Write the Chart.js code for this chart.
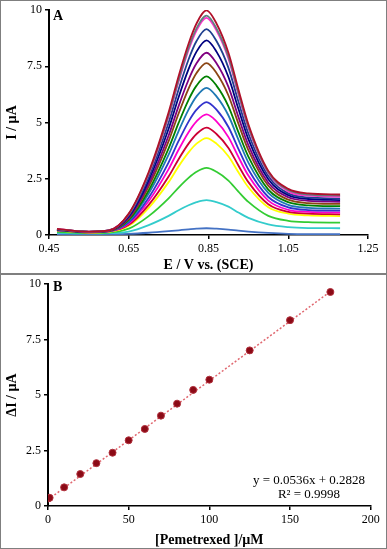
<!DOCTYPE html>
<html>
<head>
<meta charset="utf-8">
<script src="https://cdn.jsdelivr.net/npm/chart.js@4.4.1/dist/chart.umd.min.js"></script>
<style>
  body { margin: 0; background: #fff; }
  .painel { position: absolute; left: 0; width: 385px; border: 1px solid #7f7f7f; background: #fff; }
  #painelA { top: 0; height: 272px; }
  #painelB { top: 274px; height: 273px; }
  canvas { display: block; }
</style>
</head>
<body>
<div class="painel" id="painelA"><canvas id="graficoA" width="385" height="272"></canvas></div>
<div class="painel" id="painelB"><canvas id="graficoB" width="385" height="273"></canvas></div>
<script>
// Painel A: voltamogramas (E / V, I / uA)
const potenciais = [0.47, 0.55, 0.60, 0.65, 0.70, 0.75, 0.775, 0.80, 0.82, 0.845, 0.87, 0.90, 0.925, 0.95, 1.00, 1.05, 1.10, 1.18];

const curva01 = [0.04, 0.03, 0.03, 0.05, 0.10, 0.17, 0.21, 0.25, 0.28, 0.30, 0.28, 0.24, 0.19, 0.15, 0.09, 0.05, 0.04, 0.04];
const curva02 = [0.10, 0.07, 0.08, 0.15, 0.44, 0.85, 1.10, 1.32, 1.46, 1.55, 1.46, 1.26, 1.00, 0.76, 0.47, 0.35, 0.31, 0.30];
const curva03 = [0.14, 0.09, 0.11, 0.28, 0.84, 1.63, 2.11, 2.54, 2.81, 2.98, 2.81, 2.42, 1.93, 1.47, 0.85, 0.63, 0.57, 0.55];
const curva04 = [0.19, 0.11, 0.14, 0.41, 1.21, 2.35, 3.05, 3.67, 4.06, 4.31, 4.06, 3.50, 2.79, 2.12, 1.23, 0.95, 0.87, 0.84];
const curva05 = [0.21, 0.12, 0.16, 0.45, 1.34, 2.60, 3.37, 4.06, 4.49, 4.77, 4.49, 3.87, 3.09, 2.35, 1.37, 1.03, 0.95, 0.92];
const curva06 = [0.22, 0.12, 0.16, 0.51, 1.51, 2.93, 3.79, 4.57, 5.05, 5.36, 5.05, 4.35, 3.47, 2.64, 1.53, 1.12, 1.03, 1.00];
const curva07 = [0.22, 0.13, 0.17, 0.56, 1.66, 3.23, 4.18, 5.04, 5.57, 5.91, 5.57, 4.80, 3.83, 2.91, 1.69, 1.23, 1.11, 1.08];
const curva08 = [0.23, 0.13, 0.17, 0.62, 1.84, 3.57, 4.62, 5.57, 6.16, 6.54, 6.16, 5.31, 4.24, 3.22, 1.87, 1.34, 1.21, 1.17];
const curva09 = [0.23, 0.13, 0.18, 0.67, 1.98, 3.85, 4.98, 6.01, 6.64, 7.05, 6.64, 5.72, 4.57, 3.48, 2.02, 1.46, 1.32, 1.28];
const curva10 = [0.24, 0.14, 0.18, 0.73, 2.15, 4.17, 5.40, 6.51, 7.20, 7.64, 7.20, 6.20, 4.95, 3.77, 2.19, 1.57, 1.42, 1.38];
const curva11 = [0.24, 0.14, 0.19, 0.77, 2.28, 4.42, 5.73, 6.90, 7.63, 8.10, 7.63, 6.58, 5.25, 3.99, 2.32, 1.68, 1.52, 1.47];
const curva12 = [0.25, 0.14, 0.19, 0.82, 2.43, 4.72, 6.12, 7.37, 8.15, 8.65, 8.15, 7.02, 5.61, 4.26, 2.48, 1.77, 1.60, 1.55];
const curva13 = [0.25, 0.14, 0.20, 0.87, 2.57, 5.00, 6.47, 7.80, 8.62, 9.15, 8.62, 7.43, 5.93, 4.51, 2.62, 1.85, 1.67, 1.62];
const curva14 = [0.27, 0.15, 0.21, 0.92, 2.71, 5.27, 6.82, 8.22, 9.09, 9.65, 9.09, 7.84, 6.25, 4.76, 2.76, 1.94, 1.75, 1.70];
const curva15 = [0.26, 0.15, 0.20, 0.93, 2.74, 5.32, 6.89, 8.31, 9.18, 9.75, 9.18, 7.92, 6.32, 4.81, 2.79, 2.00, 1.80, 1.75];
const curva16 = [0.27, 0.15, 0.20, 0.95, 2.80, 5.45, 7.06, 8.50, 9.40, 9.98, 9.40, 8.10, 6.47, 4.92, 2.85, 2.05, 1.85, 1.80];

const curvas = [curva01, curva02, curva03, curva04, curva05, curva06, curva07, curva08,
                curva09, curva10, curva11, curva12, curva13, curva14, curva15, curva16];

const ticksXA = [0.45, 0.65, 0.85, 1.05, 1.25];
const ticksY = [0, 2.5, 5, 7.5, 10];

// Painel B: curva analitica
const concentracoes = [0.1, 1, 10, 20, 30, 40, 50, 60, 70, 80, 90, 100, 125, 150, 175];
const deltaI = [0.34, 0.37, 0.84, 1.44, 1.93, 2.40, 2.96, 3.47, 4.07, 4.61, 5.23, 5.69, 7.01, 8.37, 9.64];
const ticksXB = [0, 50, 100, 150, 200];
const inclinacao = 0.0536;
const intercepto = 0.2828;
const r2 = "0.9998";

const coresCurvas = ["#4472c4", "#33cccc", "#33cc33", "#ffff00", "#cc0033", "#ff00cc", "#3333cc", "#1f78b4",
                     "#008000", "#8b4513", "#800080", "#000080", "#1f3f8f", "#ff33cc", "#5f7f7f", "#b0102a"];

const fonteSerif = "'Liberation Serif', 'Times New Roman', serif";

function eixo(min, max, valoresTicks, titulo, formato, tamanho, horizontal) {
  return {
    type: "linear",
    min: min,
    max: max,
    afterBuildTicks: (s) => { s.ticks = valoresTicks.map((v) => ({ value: v })); },
    afterFit: (s) => { if (horizontal) s.height = tamanho; else s.width = tamanho; },
    ticks: {
      callback: formato,
      color: "#000",
      padding: horizontal ? 4 : 3,
      maxRotation: 0,
      autoSkip: false,
      font: { family: fonteSerif, size: 12, lineHeight: 1 },
    },
    grid: { drawOnChartArea: false, drawTicks: true, tickLength: 4, color: "#000", lineWidth: 1.5 },
    border: { display: true, color: "#000", width: horizontal ? 1.5 : 2 },
    title: {
      display: true,
      text: titulo,
      color: "#000",
      padding: horizontal ? { top: 0, bottom: 0 } : { top: 4, bottom: 0 },
      font: { family: fonteSerif, size: 14, weight: "bold", lineHeight: 1.1 },
    },
  };
}

function textos(linhas) {
  return {
    id: "textos",
    afterDraw(chart) {
      const ctx = chart.ctx;
      ctx.save();
      ctx.fillStyle = "#000";
      ctx.textBaseline = "middle";
      linhas.forEach((l) => {
        ctx.font = l.fonte;
        ctx.textAlign = l.alinhar;
        ctx.fillText(l.texto, l.x, l.y);
      });
      ctx.restore();
    },
  };
}

const opcoesBase = {
  responsive: false,
  animation: false,
  devicePixelRatio: 1,
  plugins: { legend: { display: false }, tooltip: { enabled: false } },
};

new Chart(document.getElementById("graficoA"), {
  type: "line",
  data: {
    datasets: curvas.map((valores, i) => ({
      data: potenciais.map((e, j) => ({ x: e, y: valores[j] })),
      borderColor: coresCurvas[i],
      borderWidth: 1.8,
      pointRadius: 0,
      fill: false,
      cubicInterpolationMode: "monotone",
      order: -i,
    })),
  },
  options: {
    ...opcoesBase,
    layout: { padding: { top: 8.5, right: 18, left: 0, bottom: 0 } },
    scales: {
      x: eixo(0.45, 1.25, ticksXA, "E / V vs. (SCE)", (v) => v.toFixed(2), 38, true),
      y: eixo(0, 10, ticksY, "I / µA", (v) => String(v), 48, false),
    },
  },
  plugins: [textos([{ texto: "A", x: 52, y: 15, fonte: "bold 14px " + fonteSerif, alinhar: "left" }])],
});

new Chart(document.getElementById("graficoB"), {
  type: "scatter",
  data: {
    datasets: [
      {
        data: concentracoes.map((c, i) => ({ x: c, y: deltaI[i] })),
        backgroundColor: "#8b0a16",
        borderColor: "#b0303c",
        borderWidth: 1,
        pointRadius: 3.5,
        order: 0,
      },
      {
        type: "line",
        data: [0, concentracoes[concentracoes.length - 1]].map((c) => ({ x: c, y: inclinacao * c + intercepto })),
        borderColor: "#e06870",
        borderWidth: 1.5,
        borderDash: [2, 2],
        pointRadius: 0,
        fill: false,
        order: 1,
      },
    ],
  },
  options: {
    ...opcoesBase,
    layout: { padding: { top: 6, right: 15.3, left: 0, bottom: 0 } },
    scales: {
      x: eixo(0, 200, ticksXB, "[Pemetrexed ]/µM", (v) => String(v), 42, true),
      y: eixo(0, 10, ticksY, "ΔI / µA", (v) => String(v), 47, false),
    },
  },
  plugins: [textos([
    { texto: "B", x: 52, y: 12, fonte: "bold 14px " + fonteSerif, alinhar: "left" },
    { texto: "y = " + inclinacao + "x + " + intercepto, x: 308, y: 206, fonte: "13px " + fonteSerif, alinhar: "center" },
    { texto: "R² = " + r2, x: 308, y: 220, fonte: "13px " + fonteSerif, alinhar: "center" },
  ])],
});
</script>
</body>
</html>
